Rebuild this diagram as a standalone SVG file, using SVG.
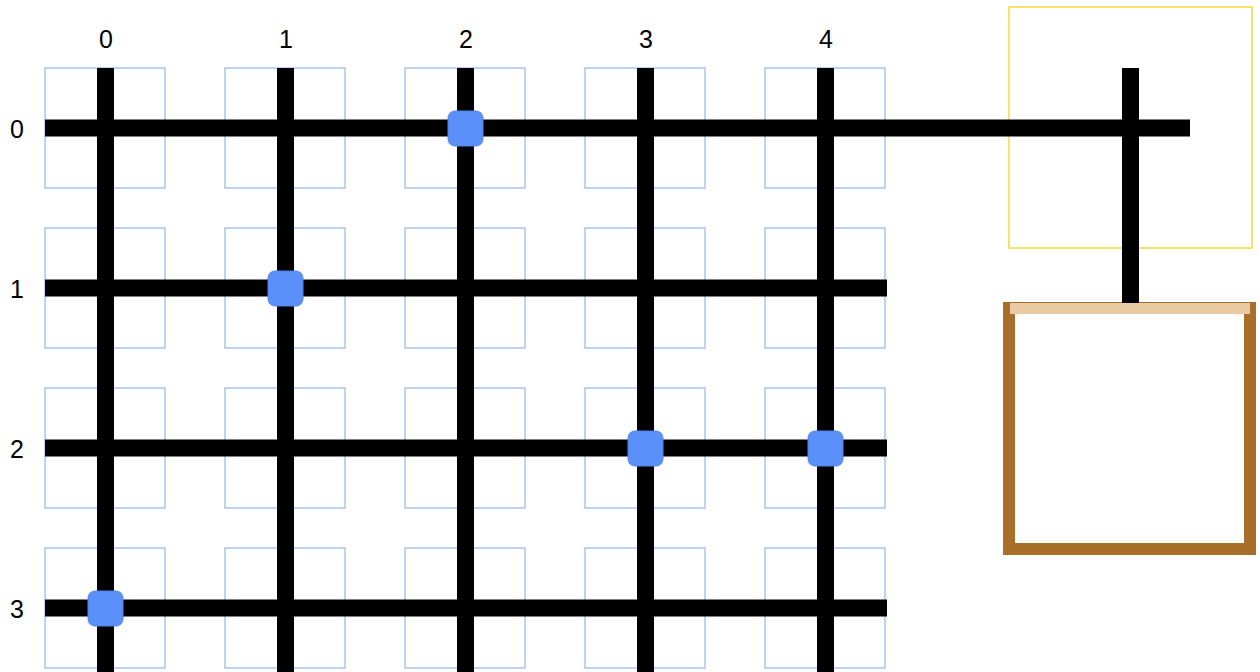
<svg xmlns="http://www.w3.org/2000/svg" width="1260" height="672" viewBox="0 0 1260 672">
<style>
.cell{fill:none;stroke:#a9c3f0;stroke-width:1.5}
.wire{stroke:#000;stroke-width:17;fill:none}
.node{fill:#5b8ff9;stroke:#5584e8;stroke-width:1}
.lbl{font-family:"Liberation Sans",Arial,sans-serif;font-size:25px;fill:#000;text-anchor:middle;dominant-baseline:central}
</style>
<rect width="1260" height="672" fill="#fff"/>
<g id="cells">
<rect class="cell" x="45" y="68" width="120" height="120"/><rect class="cell" x="225" y="68" width="120" height="120"/><rect class="cell" x="405" y="68" width="120" height="120"/><rect class="cell" x="585" y="68" width="120" height="120"/><rect class="cell" x="765" y="68" width="120" height="120"/>
<rect class="cell" x="45" y="228" width="120" height="120"/><rect class="cell" x="225" y="228" width="120" height="120"/><rect class="cell" x="405" y="228" width="120" height="120"/><rect class="cell" x="585" y="228" width="120" height="120"/><rect class="cell" x="765" y="228" width="120" height="120"/>
<rect class="cell" x="45" y="388" width="120" height="120"/><rect class="cell" x="225" y="388" width="120" height="120"/><rect class="cell" x="405" y="388" width="120" height="120"/><rect class="cell" x="585" y="388" width="120" height="120"/><rect class="cell" x="765" y="388" width="120" height="120"/>
<rect class="cell" x="45" y="548" width="120" height="120"/><rect class="cell" x="225" y="548" width="120" height="120"/><rect class="cell" x="405" y="548" width="120" height="120"/><rect class="cell" x="585" y="548" width="120" height="120"/><rect class="cell" x="765" y="548" width="120" height="120"/>
</g>
<g id="yellow-box"><rect x="1009" y="7" width="243" height="241" fill="none" stroke="#f7e36a" stroke-width="2"/></g>
<g id="brown-box">
<rect x="1009" y="308" width="241" height="241" fill="none" stroke="#a86f2a" stroke-width="12"/>
<line x1="1010" y1="308.5" x2="1250" y2="308.5" stroke="#e9caa2" stroke-width="11"/>
</g>
<g id="connectors">
<line class="wire" x1="105.5" y1="68" x2="105.5" y2="672"/>
<line class="wire" x1="285.5" y1="68" x2="285.5" y2="672"/>
<line class="wire" x1="465.5" y1="68" x2="465.5" y2="672"/>
<line class="wire" x1="645.5" y1="68" x2="645.5" y2="672"/>
<line class="wire" x1="825.5" y1="68" x2="825.5" y2="672"/>
<line class="wire" x1="45" y1="128" x2="1190" y2="128"/>
<line class="wire" x1="45" y1="288" x2="887" y2="288"/>
<line class="wire" x1="45" y1="448" x2="887" y2="448"/>
<line class="wire" x1="45" y1="608" x2="887" y2="608"/>
<line class="wire" x1="1130.5" y1="68" x2="1130.5" y2="303"/>
</g>
<g id="nodes">
<rect id="n-0-2" class="node" x="448" y="111" width="35" height="35" rx="7"/>
<rect id="n-1-1" class="node" x="268" y="271" width="35" height="35" rx="7"/>
<rect id="n-2-3" class="node" x="628" y="431" width="35" height="35" rx="7"/>
<rect id="n-2-4" class="node" x="808" y="431" width="35" height="35" rx="7"/>
<rect id="n-3-0" class="node" x="88" y="591" width="35" height="35" rx="7"/>
</g>
<g id="labels">
<text class="lbl" x="106" y="39">0</text>
<text class="lbl" x="286" y="39">1</text>
<text class="lbl" x="466" y="39">2</text>
<text class="lbl" x="646" y="39">3</text>
<text class="lbl" x="826" y="39">4</text>
<text class="lbl" x="17" y="129">0</text>
<text class="lbl" x="17" y="289">1</text>
<text class="lbl" x="17" y="449">2</text>
<text class="lbl" x="17" y="609">3</text>
</g>
</svg>
